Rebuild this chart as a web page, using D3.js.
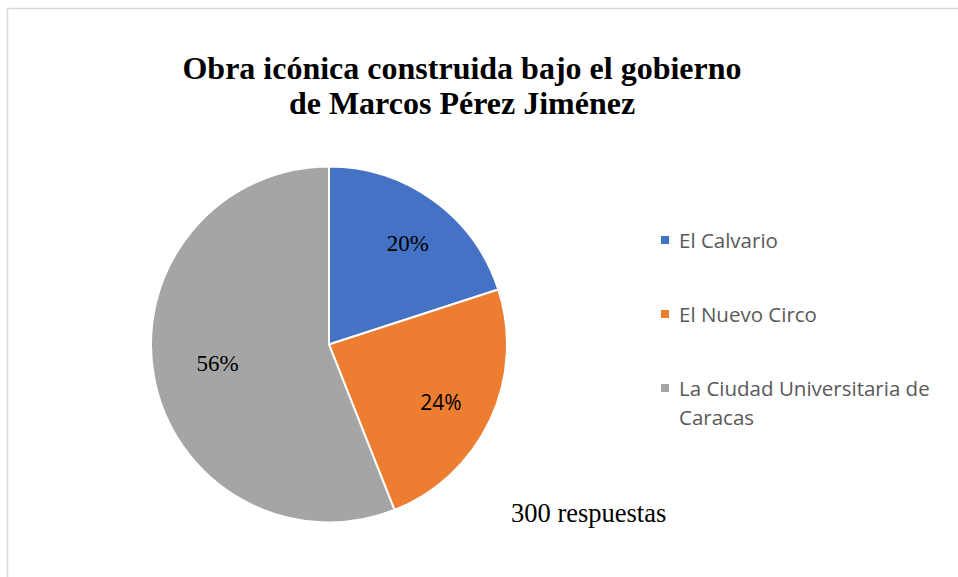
<!DOCTYPE html>
<html>
<head>
<meta charset="utf-8">
<script src="https://cdn.jsdelivr.net/npm/d3@7"></script>
<style>
  body { margin: 0; background: #fff; }
  svg { display: block; }
</style>
</head>
<body>
<script>
// datos del gráfico
const categories = ["El Calvario", "El Nuevo Circo", "La Ciudad Universitaria de Caracas"];
const values = [20, 24, 56];
const colors = ["#4472C4", "#ED7D31", "#A5A5A5"];
const titleLines = ["Obra icónica construida bajo el gobierno", "de Marcos Pérez Jiménez"];
const note = "300 respuestas";

const width = 958, height = 577;
const cx = 329, cy = 344.5, radius = 178;

const svg = d3.select("body")
  .append("svg")
  .attr("width", width)
  .attr("height", height);

// marco del gráfico
svg.append("path")
  .attr("d", `M7.5,${height} V8.5 H${width}`)
  .attr("fill", "none")
  .attr("stroke", "#D9D9D9")
  .attr("stroke-width", 1.5);

// título
svg.append("text")
  .attr("x", 462)
  .attr("y", 79)
  .attr("text-anchor", "middle")
  .style("font-family", "'Liberation Serif', 'Times New Roman', serif")
  .style("font-weight", "bold")
  .style("font-size", "32px")
  .selectAll("tspan")
  .data(titleLines)
  .join("tspan")
  .attr("x", 462)
  .attr("dy", (d, i) => i === 0 ? 0 : 35)
  .text(d => d);

// pastel
const pie = d3.pie().sort(null).value(d => d);
const arcs = pie(values);
const arc = d3.arc().innerRadius(0).outerRadius(radius);

const g = svg.append("g").attr("transform", `translate(${cx},${cy})`);

g.selectAll("path")
  .data(arcs)
  .join("path")
  .attr("d", arc)
  .attr("fill", (d, i) => colors[i])
  .attr("stroke", "#fff")
  .attr("stroke-width", 2)
  .attr("stroke-linejoin", "round");

// etiquetas de datos (posiciones relativas al radio)
const labelArc = d3.arc().innerRadius(radius * 0.62).outerRadius(radius * 0.62);
const labelFonts = [
  "'Liberation Serif', 'Times New Roman', serif",
  "'Open Sans', 'Liberation Sans', sans-serif",
  "'Liberation Serif', 'Times New Roman', serif"
];
const labelSizes = ["23px", "21px", "23px"];
const labelShift = [[14, -12], [12, 11], [-3, -2]];

g.selectAll("text.pct")
  .data(arcs)
  .join("text")
  .attr("class", "pct")
  .attr("x", (d, i) => labelArc.centroid(d)[0] + labelShift[i][0])
  .attr("y", (d, i) => labelArc.centroid(d)[1] + labelShift[i][1])
  .attr("text-anchor", "middle")
  .attr("dominant-baseline", "central")
  .style("font-family", (d, i) => labelFonts[i])
  .style("font-size", (d, i) => labelSizes[i])
  .style("fill", "#000")
  .text(d => Math.round(d.data) + "%");

// leyenda
const legendRows = [
  [categories[0]],
  [categories[1]],
  ["La Ciudad Universitaria de", "Caracas"]
];
const legend = svg.append("g").attr("transform", "translate(661,0)");
const rowY = [240, 314, 388];

legendRows.forEach((lines, i) => {
  legend.append("rect")
    .attr("x", 0)
    .attr("y", rowY[i] - 4)
    .attr("width", 8)
    .attr("height", 8)
    .attr("fill", colors[i]);
  const t = legend.append("text")
    .attr("x", 18)
    .attr("y", rowY[i])
    .attr("dominant-baseline", "central")
    .style("font-family", "'Open Sans', 'Liberation Sans', sans-serif")
    .style("font-size", "20.5px")
    .style("fill", "#595959");
  lines.forEach((l, j) => {
    t.append("tspan")
      .attr("x", 18)
      .attr("dy", j === 0 ? 0 : 29)
      .text(l);
  });
});

// nota
svg.append("text")
  .attr("x", 511)
  .attr("y", 522)
  .style("font-family", "'Liberation Serif', 'Times New Roman', serif")
  .style("font-size", "26.5px")
  .style("fill", "#000")
  .text(note);
</script>
</body>
</html>
